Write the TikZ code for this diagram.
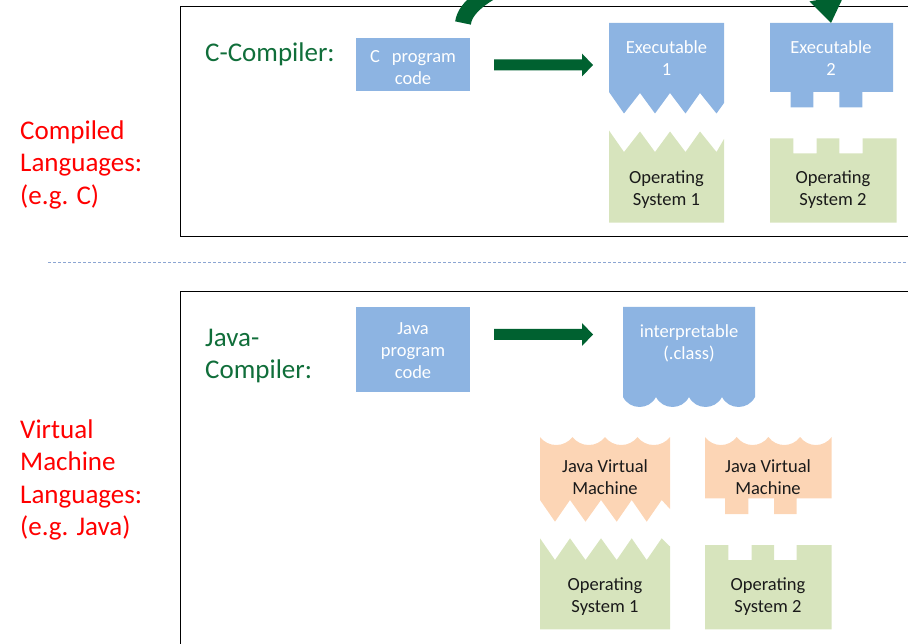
\documentclass[tikz,border=0pt]{standalone}
\usepackage{fontspec}
\setmainfont{Carlito}
\usetikzlibrary{calc}

\definecolor{boxblue}{RGB}{141,180,226}
\definecolor{osgreen}{RGB}{215,228,189}
\definecolor{jvmpeach}{RGB}{252,213,181}
\definecolor{arrowgreen}{RGB}{0,97,48}
\definecolor{labelgreen}{RGB}{16,110,58}
\definecolor{labelred}{RGB}{255,0,0}
\definecolor{sepline}{RGB}{140,165,210}
\definecolor{darktext}{RGB}{26,26,26}

\begin{document}
\begin{tikzpicture}[x=1pt,y=-1pt,
  boxtxt/.style={text=white, font=\fontsize{18.5}{22}\selectfont, align=center, inner sep=0pt},
  layertxt/.style={text=darktext, font=\fontsize{18.5}{22}\selectfont, align=center, inner sep=0pt},
  sidelabel/.style={text=labelred, font=\fontsize{27}{32.5}\selectfont, align=left, inner sep=0pt, anchor=west},
  complabel/.style={text=labelgreen, font=\fontsize{27}{32.5}\selectfont, align=left, inner sep=0pt},
  frame/.style={draw=black, line width=1pt},
  progshape/.style={fill=boxblue},
  osshape/.style={fill=osgreen},
  jvmshape/.style={fill=jvmpeach},
  bigarrow/.style={fill=arrowgreen}
]
\useasboundingbox (0,0) rectangle (908,644);
\clip (0,0) rectangle (908,644);

% ---------- frames and separator ----------
\draw[frame] (180,7) rectangle (915,237);
\draw[frame] (180,292) rectangle (915,660);
\draw[sepline, line width=0.8pt, dash pattern=on 3pt off 2pt] (48,262) -- (908,262);

% ---------- side labels ----------
\node[sidelabel] (complang) at (20,164.5) {Compiled\\Languages:\\(e.g. C)};
\node[sidelabel] (vmlang) at (20,480) {Virtual\\Machine\\Languages:\\(e.g. Java)};

% ---------- compiled languages ----------
\node[complabel, anchor=base west] (ccomp) at (205,62) {C-Compiler:};

\fill[progshape] (356,38) rectangle (470,91);
\node[boxtxt] (cprog) at (413,67.5) {C\hspace{12pt}program\\code};

% executable 1 with saw-tooth bottom
\fill[progshape] (609,23) -- (724,23) -- (724,103) -- (716.5,113.5) -- (700,93)
  -- (685.5,113.5) -- (670,93) -- (655,113.5) -- (640,93) -- (624,113.5)
  -- (609,92) -- cycle;
\node[boxtxt] (exe1) at (666.5,58.5) {Executable\\1};

% operating system 1 with matching teeth on top
\fill[osshape] (609,130.5) -- (624,152) -- (640,131.5) -- (655,152) -- (670,131.5)
  -- (685.5,152) -- (700,131.5) -- (716.5,152) -- (724,139) -- (724,222.7)
  -- (609,222.7) -- cycle;
\node[layertxt] (os1top) at (666.5,190) {Operating\\System 1};

% executable 2 with two tabs
\fill[progshape] (770,23) -- (893,23) -- (893,92) -- (862.3,92) -- (862.3,107.3)
  -- (839.3,107.3) -- (839.3,92) -- (813.3,92) -- (813.3,107.3) -- (790.7,107.3)
  -- (790.7,92) -- (770,92) -- cycle;
\node[boxtxt] (exe2) at (831,58.5) {Executable\\2};

% operating system 2 with two slots
\fill[osshape] (770,138.3) -- (793.3,138.3) -- (793.3,153.3) -- (816.7,153.3)
  -- (816.7,138.3) -- (839.3,138.3) -- (839.3,153.3) -- (862.7,153.3)
  -- (862.7,138.3) -- (896.5,138.3) -- (896.5,222.7) -- (770,222.7) -- cycle;
\node[layertxt] (os2top) at (833,190) {Operating\\System 2};

% compiler arrow
\coordinate (ar1s) at (494,65);
\coordinate (ar1e) at (593,65);
\fill[bigarrow] ($(ar1s)+(0,-5.5)$) -- ($(ar1e)+(-11,-5.5)$) -- ($(ar1e)+(-11,-11.5)$)
  -- (ar1e) -- ($(ar1e)+(-11,11.5)$) -- ($(ar1e)+(-11,5.5)$) -- ($(ar1s)+(0,5.5)$) -- cycle;

% curved arrow over the top (mostly outside the visible area)
\coordinate (arcs) at (463,23);
\coordinate (arce) at (826.7,-1.6);
\coordinate (arctip) at (831,23);
\draw[arrowgreen, line width=16pt] (arcs) .. controls (472,-45) and (811,-90) .. (arce);
\fill[arrowgreen] (arctip) -- (844,-4.6) -- (809.4,1.4) -- cycle;

% ---------- virtual machine languages ----------
\node[complabel, anchor=west] (jcomp) at (205,356) {Java-\\Compiler:};

\fill[progshape] (356,307) rectangle (470,391.7);
\node[boxtxt] (jprog) at (413,350.5) {Java\\program\\code};

\coordinate (ar2s) at (494,334.5);
\coordinate (ar2e) at (593,334.5);
\fill[bigarrow] ($(ar2s)+(0,-5.5)$) -- ($(ar2e)+(-11,-5.5)$) -- ($(ar2e)+(-11,-11.5)$)
  -- (ar2e) -- ($(ar2e)+(-11,11.5)$) -- ($(ar2e)+(-11,5.5)$) -- ($(ar2s)+(0,5.5)$) -- cycle;

% interpretable class file with scalloped bottom
\fill[progshape] (623,307) -- (755,307) -- (755,397)
  .. controls (748.1,410.3) and (728.9,410.3) .. (722,397)
  .. controls (715.1,410.3) and (695.9,410.3) .. (689,397)
  .. controls (682.1,410.3) and (662.9,410.3) .. (656,397)
  .. controls (649.1,410.3) and (629.9,410.3) .. (623,397) -- cycle;
\node[boxtxt] (interp) at (689,343.5) {interpretable\\(.class)};

% virtual machine 1: scalloped top, saw-tooth bottom
\fill[jvmshape] (540,437)
  .. controls (548.2,447.7) and (564.3,447.7) .. (572.5,437)
  .. controls (580.7,447.7) and (596.8,447.7) .. (605,437)
  .. controls (613.2,447.7) and (629.3,447.7) .. (637.5,437)
  .. controls (645.7,447.7) and (661.8,447.7) .. (670,437)
  -- (670,509) -- (661.7,500) -- (646.7,521.7) -- (631.7,500) -- (616.7,521.7)
  -- (601,500) -- (585.5,521.7) -- (570,500) -- (555,521.7) -- (540,500) -- cycle;
\node[layertxt] (jvm1) at (605,477.5) {Java Virtual\\Machine};

% operating system 1 (lower)
\fill[osshape] (540,538.3) -- (555,560) -- (570,538.3) -- (585.5,560) -- (601,538.3)
  -- (616.7,560) -- (631.7,538.3) -- (646.7,560) -- (661.7,538.3) -- (670,546.5)
  -- (670,629.3) -- (540,629.3) -- cycle;
\node[layertxt] (os1bot) at (605,596.5) {Operating\\System 1};

% virtual machine 2: scalloped top, two tabs
\fill[jvmshape] (705,437)
  .. controls (713,447.7) and (728.7,447.7) .. (736.7,437)
  .. controls (744.7,447.7) and (760.4,447.7) .. (768.4,437)
  .. controls (776.4,447.7) and (792.1,447.7) .. (800.1,437)
  .. controls (808.1,447.7) and (823.7,447.7) .. (831.7,437)
  -- (831.7,498.3) -- (796.7,498.3) -- (796.7,514) -- (774,514) -- (774,498.3)
  -- (748.3,498.3) -- (748.3,514) -- (725,514) -- (725,498.3) -- (705,498.3) -- cycle;
\node[layertxt] (jvm2) at (768,477.5) {Java Virtual\\Machine};

% operating system 2 (lower)
\fill[osshape] (705,545) -- (728.3,545) -- (728.3,560) -- (751.7,560) -- (751.7,545)
  -- (774,545) -- (774,560) -- (796.7,560) -- (796.7,545) -- (831.7,545)
  -- (831.7,629.3) -- (705,629.3) -- cycle;
\node[layertxt] (os2bot) at (768,596.5) {Operating\\System 2};

\end{tikzpicture}
\end{document}
